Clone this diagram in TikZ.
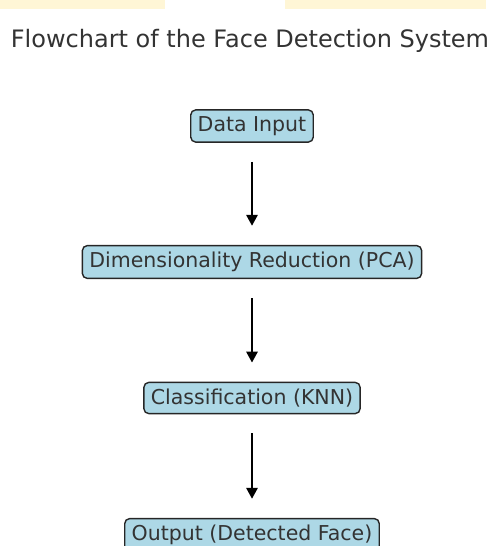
\documentclass[tikz,border=0pt]{standalone}
\usepackage{fontspec}
\setmainfont{DejaVu Sans}
\usetikzlibrary{arrows.meta}

\definecolor{boxblue}{RGB}{173,216,230}
\definecolor{txtgray}{RGB}{51,51,51}
\definecolor{washyellow}{RGB}{255,246,214}

\tikzset{
  stage/.style={draw=black!85, fill=boxblue, rounded corners=5pt, line width=1.4pt,
                text=txtgray, inner xsep=7pt, inner ysep=6.5pt,
                font=\fontsize{20.5}{23}\selectfont},
  flow/.style={-{Triangle[length=11pt,width=11pt]}, line width=2.8pt, black,
               shorten <=19pt, shorten >=19pt}
}

\begin{document}
\begin{tikzpicture}[x=1pt,y=-1pt]
                        \useasboundingbox (0,0) rectangle (496,546);
                        \fill[washyellow] (0,0) rectangle (165,9);
                        \fill[washyellow] (285,0) rectangle (486,9);
                        \node[text=txtgray, font=\fontsize{24}{28}\selectfont] (title) at (250,41) {Flowchart of the Face Detection System};
                        \node[stage] (input)    at (252,126) {Data Input};
                        \node[stage] (pca)      at (252,262) {Dimensionality Reduction (PCA)};
                        \node[stage] (knn)      at (252,398) {Classification (KNN)};
                        \node[stage] (output)   at (252,535) {Output (Detected Face)};
                        \draw[flow] (input) -- (pca);
                        \draw[flow] (pca) -- (knn);
                        \draw[flow] (knn) -- (output);
\end{tikzpicture}
\end{document}
